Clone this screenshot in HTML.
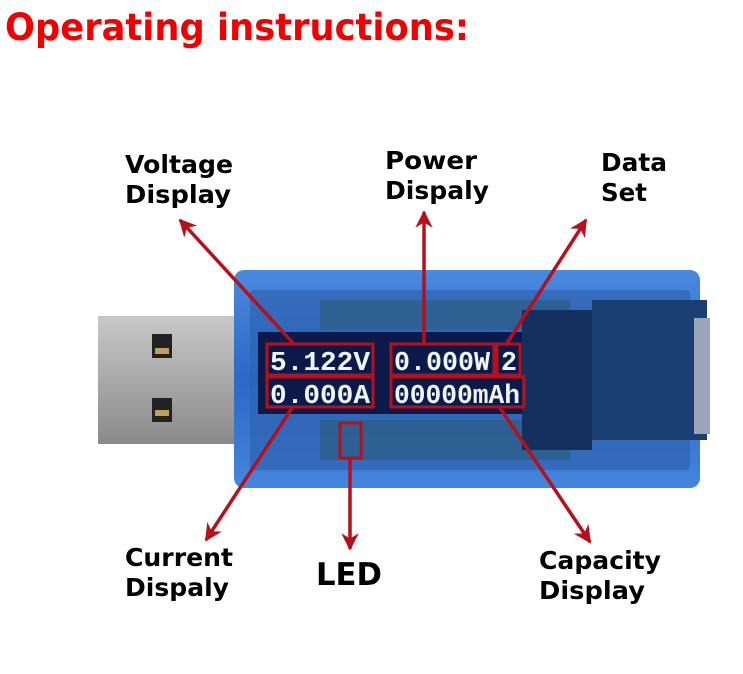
<!DOCTYPE html>
<html><head><meta charset="utf-8"><style>
html,body{margin:0;padding:0;background:#fff;width:743px;height:674px;overflow:hidden}
text{font-family:"DejaVu Sans","Liberation Sans",sans-serif;font-weight:bold}
</style></head><body>
<svg width="743" height="674" viewBox="0 0 743 674" xmlns="http://www.w3.org/2000/svg">
<defs>
<marker id="ah" viewBox="0 0 10 10" refX="9" refY="5" markerWidth="5" markerHeight="5" orient="auto-start-reverse">
<path d="M0,0 L10,5 L0,10 L3,5 z" fill="#b5101c"/></marker>
<linearGradient id="usb" x1="0" y1="0" x2="0" y2="1"><stop offset="0" stop-color="#c8c8c8"/><stop offset="0.5" stop-color="#a9a9a9"/><stop offset="1" stop-color="#8a8a8a"/></linearGradient>
<linearGradient id="body" x1="0" y1="0" x2="0" y2="1"><stop offset="0" stop-color="#4a8ae0"/><stop offset="0.5" stop-color="#2d68c4"/><stop offset="1" stop-color="#4585dc"/></linearGradient>
</defs>
<text x="5" y="40" font-size="37" fill="#f00000" textLength="464" lengthAdjust="spacingAndGlyphs">Operating instructions:</text>
<rect x="98" y="316" width="142" height="128" fill="url(#usb)"/>
<rect x="152" y="334" width="20" height="24" fill="#222"/><rect x="155" y="348" width="14" height="6" fill="#b9a060"/>
<rect x="152" y="398" width="20" height="24" fill="#222"/><rect x="155" y="410" width="14" height="6" fill="#b9a060"/>
<rect x="234" y="270" width="466" height="218" rx="10" fill="url(#body)"/>
<rect x="250" y="290" width="440" height="180" rx="4" fill="#2f62b0" opacity="0.7"/>
<rect x="320" y="300" width="250" height="30" fill="#2b5a7a" opacity="0.6"/>
<rect x="320" y="420" width="250" height="40" fill="#2b5a7a" opacity="0.6"/>
<rect x="258" y="332" width="275" height="82" fill="#0c1a4a"/>
<rect x="522" y="310" width="70" height="140" fill="#13305f"/>
<rect x="592" y="300" width="115" height="140" fill="#1b3f72"/>
<rect x="694" y="318" width="16" height="116" fill="#9aa6b8"/>
<g fill="#f0f6ff">
<text x="270" y="370" font-size="27" textLength="100" lengthAdjust="spacingAndGlyphs" style="font-family:'Liberation Mono',monospace">5.122V</text>
<text x="270" y="403" font-size="27" textLength="100" lengthAdjust="spacingAndGlyphs" style="font-family:'Liberation Mono',monospace">0.000A</text>
<text x="394" y="370" font-size="27" textLength="96" lengthAdjust="spacingAndGlyphs" style="font-family:'Liberation Mono',monospace">0.000W</text>
<text x="501" y="370" font-size="27" textLength="16" lengthAdjust="spacingAndGlyphs" style="font-family:'Liberation Mono',monospace">2</text>
<text x="394" y="403" font-size="27" textLength="126" lengthAdjust="spacingAndGlyphs" style="font-family:'Liberation Mono',monospace">00000mAh</text>
</g>
<g fill="none" stroke="#b5101c" stroke-width="3">
<rect x="267" y="344" width="106" height="31"/>
<rect x="267" y="377" width="106" height="30"/>
<rect x="391" y="344" width="103" height="31"/>
<rect x="497" y="344" width="23" height="31"/>
<rect x="391" y="377" width="133" height="30"/>
<rect x="340" y="423" width="21" height="35"/>
</g>
<g stroke="#b5101c" stroke-width="3.5" marker-end="url(#ah)">
<line x1="293" y1="343" x2="180" y2="220"/>
<line x1="424" y1="343" x2="424" y2="212"/>
<line x1="507" y1="343" x2="586" y2="220"/>
<line x1="292" y1="408" x2="206" y2="540"/>
<line x1="350" y1="459" x2="350" y2="549"/>
<line x1="500" y1="408" x2="590" y2="542"/>
</g>
<g fill="#000" font-size="25">
<text x="125" y="173" textLength="108" lengthAdjust="spacingAndGlyphs">Voltage</text>
<text x="125" y="203" textLength="106" lengthAdjust="spacingAndGlyphs">Display</text>
<text x="385" y="169" textLength="92" lengthAdjust="spacingAndGlyphs">Power</text>
<text x="385" y="199" textLength="104" lengthAdjust="spacingAndGlyphs">Dispaly</text>
<text x="601" y="171" textLength="66" lengthAdjust="spacingAndGlyphs">Data</text>
<text x="601" y="201" textLength="46" lengthAdjust="spacingAndGlyphs">Set</text>
<text x="125" y="566" textLength="108" lengthAdjust="spacingAndGlyphs">Current</text>
<text x="125" y="596" textLength="104" lengthAdjust="spacingAndGlyphs">Dispaly</text>
<text x="316" y="585" font-size="31" textLength="66" lengthAdjust="spacingAndGlyphs">LED</text>
<text x="539" y="569" textLength="122" lengthAdjust="spacingAndGlyphs">Capacity</text>
<text x="539" y="599" textLength="106" lengthAdjust="spacingAndGlyphs">Display</text>
</g>
</svg>
</body></html>
